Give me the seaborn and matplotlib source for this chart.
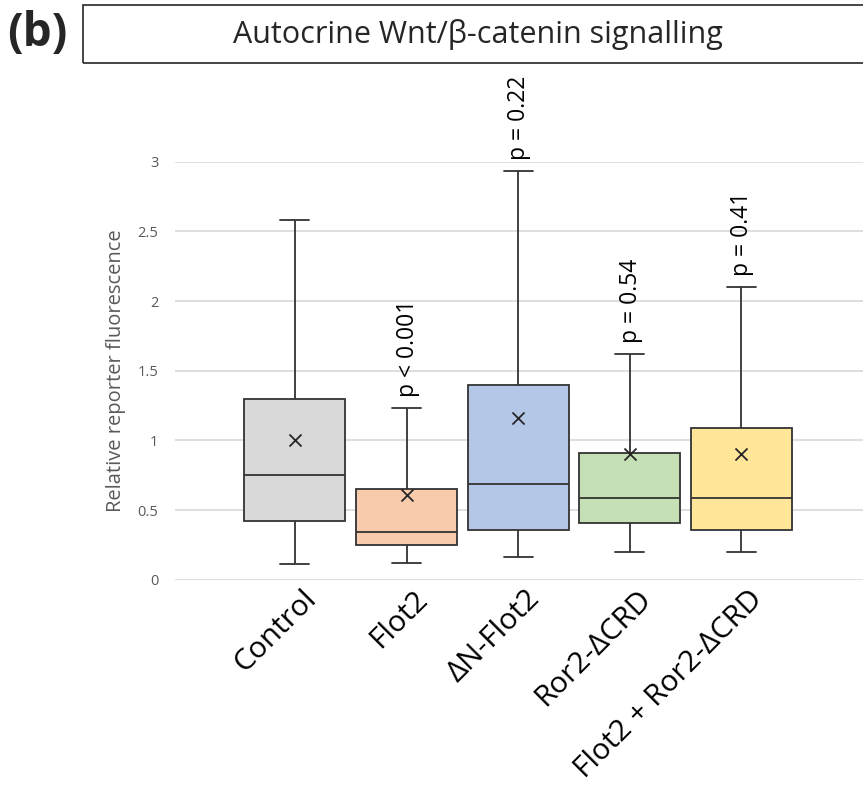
import numpy as np
import pandas as pd
import seaborn as sns
import matplotlib.pyplot as plt
import matplotlib.transforms as mtransforms
from matplotlib.patches import Rectangle

# 데이터
groups = ['Control', 'Flot2', 'ΔN-Flot2', 'Ror2-ΔCRD', 'Flot2 + Ror2-ΔCRD']
whisker_low = [0.11, 0.12, 0.16, 0.20, 0.20]
q1 = [0.42, 0.25, 0.36, 0.41, 0.36]
median = [0.75, 0.34, 0.69, 0.59, 0.59]
q3 = [1.30, 0.65, 1.40, 0.91, 1.09]
whisker_high = [2.58, 1.23, 2.93, 1.62, 2.10]
means = [1.00, 0.61, 1.16, 0.90, 0.90]
p_labels = ['', 'p < 0.001', 'p = 0.22', 'p = 0.54', 'p = 0.41']
colors = ['#d9d9d9', '#f8cbad', '#b4c7e7', '#c5e0b4', '#ffe699']

# 5-number summary -> long table (quartiles come out exact with linear interpolation)
rows = []
for i, g in enumerate(groups):
    for v in (whisker_low[i], q1[i], median[i], q3[i], whisker_high[i]):
        rows.append({'group': g, 'value': v})
df = pd.DataFrame(rows)
df_mean = pd.DataFrame({'group': groups, 'mean': means})

sns.set_theme(style='white')
plt.rcParams['font.family'] = ['Open Sans', 'DejaVu Sans']

fig = plt.figure(figsize=(8.63, 7.94), dpi=100)
ax = fig.add_axes([0.2028, 0.2698, 0.7972, 0.5265])

sns.boxplot(data=df, x='group', y='value', order=groups, hue='group',
            palette=colors, saturation=1, width=0.905, whis=(0, 100),
            linecolor='#333333', linewidth=1.3, legend=False, ax=ax,
            capwidths=0.26)
sns.scatterplot(data=df_mean, x='group', y='mean', marker='x', s=75,
                color='#262626', linewidth=1.3, zorder=5, ax=ax)

for i, txt in enumerate(p_labels):
    if txt:
        ax.text(i + 0.01, whisker_high[i] + 0.08, txt, rotation=90,
                ha='center', va='bottom', fontsize=16.5, color='black',
                clip_on=False)

ax.set_xlim(-1.075, 5.09)
ax.set_ylim(0, 3)
ax.set_yticks([0, 0.5, 1, 1.5, 2, 2.5, 3])
ax.set_yticklabels(['0', '0.5', '1', '1.5', '2', '2.5', '3'],
                   color='#595959', fontsize=10.5)
ax.yaxis.grid(True, color='#d9d9d9', linewidth=1.2)
ax.set_axisbelow(True)
for s in ax.spines.values():
    s.set_visible(False)
ax.tick_params(axis='y', length=0, pad=12)
ax.tick_params(axis='x', length=0, pad=2)
ax.set_xlabel('')
ax.set_ylabel('Relative reporter fluorescence', color='#595959',
              fontsize=14.5, labelpad=8)
shift = mtransforms.ScaledTranslation(7 / 100, -2 / 100, fig.dpi_scale_trans)
for lab in ax.get_xticklabels():
    lab.set_rotation(45)
    lab.set_ha('right')
    lab.set_rotation_mode('anchor')
    lab.set_fontsize(21.5)
    lab.set_color('black')
    lab.set_transform(lab.get_transform() + shift)

# 제목 상자
fig.patches.append(Rectangle((83 / 863, 1 - 63 / 794), 0.95, 58 / 794,
                             transform=fig.transFigure, fill=False,
                             edgecolor='#262626', linewidth=1.2))
fig.text(478 / 863, 1 - 35 / 794, 'Autocrine Wnt/β-catenin signalling',
         ha='center', va='center', fontsize=22)
fig.text(7 / 863, 1 - 34 / 794, '(b)', ha='left', va='center',
         fontsize=33, fontweight='bold')

fig.savefig('out.png', dpi=100)
